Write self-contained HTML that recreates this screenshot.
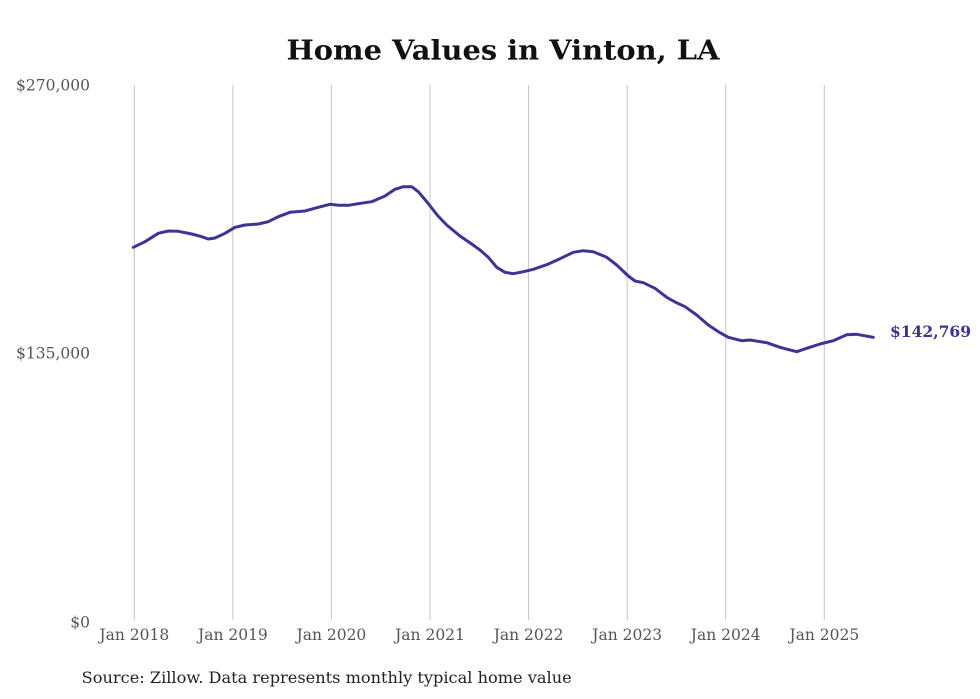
<!DOCTYPE html>
<html>
<head>
<meta charset="utf-8">
<style>
  html, body { margin: 0; padding: 0; background: #ffffff; }
  body { width: 980px; height: 699px; overflow: hidden; }
  svg { display: block; }
  text { font-family: "DejaVu Serif", "Liberation Serif", serif; }
</style>
</head>
<body>
<svg width="980" height="699" viewBox="0 0 980 699" xmlns="http://www.w3.org/2000/svg">
  <rect width="980" height="699" fill="#ffffff"/>

  <!-- Title -->
  <text x="286.5" y="59.5" font-size="27" font-weight="bold" fill="#111" textLength="433" lengthAdjust="spacingAndGlyphs">Home Values in Vinton, LA</text>

  <!-- Vertical gridlines -->
  <g stroke="#c4c4c4" stroke-width="1">
    <line x1="134.3" y1="85" x2="134.3" y2="620"/>
    <line x1="232.9" y1="85" x2="232.9" y2="620"/>
    <line x1="331.4" y1="85" x2="331.4" y2="620"/>
    <line x1="430.0" y1="85" x2="430.0" y2="620"/>
    <line x1="528.6" y1="85" x2="528.6" y2="620"/>
    <line x1="627.2" y1="85" x2="627.2" y2="620"/>
    <line x1="725.7" y1="85" x2="725.7" y2="620"/>
    <line x1="824.3" y1="85" x2="824.3" y2="620"/>
  </g>

  <!-- Y labels -->
  <g font-size="15.5" fill="#555" text-anchor="end">
    <text x="90" y="90.5">$270,000</text>
    <text x="90" y="358.5">$135,000</text>
    <text x="90" y="627.5">$0</text>
  </g>

  <!-- X labels -->
  <g font-size="15.5" fill="#555" text-anchor="middle">
    <text x="134.3" y="640">Jan 2018</text>
    <text x="232.9" y="640">Jan 2019</text>
    <text x="331.4" y="640">Jan 2020</text>
    <text x="430.0" y="640">Jan 2021</text>
    <text x="528.6" y="640">Jan 2022</text>
    <text x="627.2" y="640">Jan 2023</text>
    <text x="725.7" y="640">Jan 2024</text>
    <text x="824.3" y="640">Jan 2025</text>
  </g>

  <!-- Series line -->
  <polyline fill="none" stroke="#3b3595" stroke-width="3" stroke-linejoin="round" stroke-linecap="round"
    points="133.3,247.3 145,241.7 158.3,233.3 168.3,231 178.3,231.3 191.7,234 201.7,236.7 208.3,239 215,238 225,233.3 235,227.3 245,225 258.3,224 268.3,221.7 278.3,216.7 290,212.3 305,211 318.3,207.3 330,204.3 338.3,205.3 348.3,205.3 358.3,203.7 371.7,201.7 385,196 395,189.3 403.3,186.7 411.7,186.7 418.3,191.7 427,202 438,216 446.7,225 460,236 471.7,244 480,250 488.3,257.3 496.7,267.3 505,272.3 513.3,273.7 523.3,271.7 533.3,269.3 546.7,264.7 560,258.7 573.3,252.3 583.3,250.7 593.3,251.7 606.7,257.3 616.7,265 628.3,276 635,281 643.3,282.7 655,288.3 666.7,297.3 675,302 685,306.7 696.7,315 708.3,325 720,332.7 728.3,337.3 741.7,340.7 750,340 766.7,342.7 780,347.3 796.7,351.7 806.7,348.3 820,344 833.3,340.7 846.7,334.7 856.7,334.3 873.3,337.3"/>

  <!-- End label -->
  <text x="890" y="337" font-size="15.5" font-weight="bold" fill="#3b3595" textLength="81" lengthAdjust="spacingAndGlyphs">$142,769</text>

  <!-- Source -->
  <text x="81.7" y="683" font-size="15.5" fill="#222" textLength="490" lengthAdjust="spacingAndGlyphs">Source: Zillow. Data represents monthly typical home value</text>
</svg>
</body>
</html>
